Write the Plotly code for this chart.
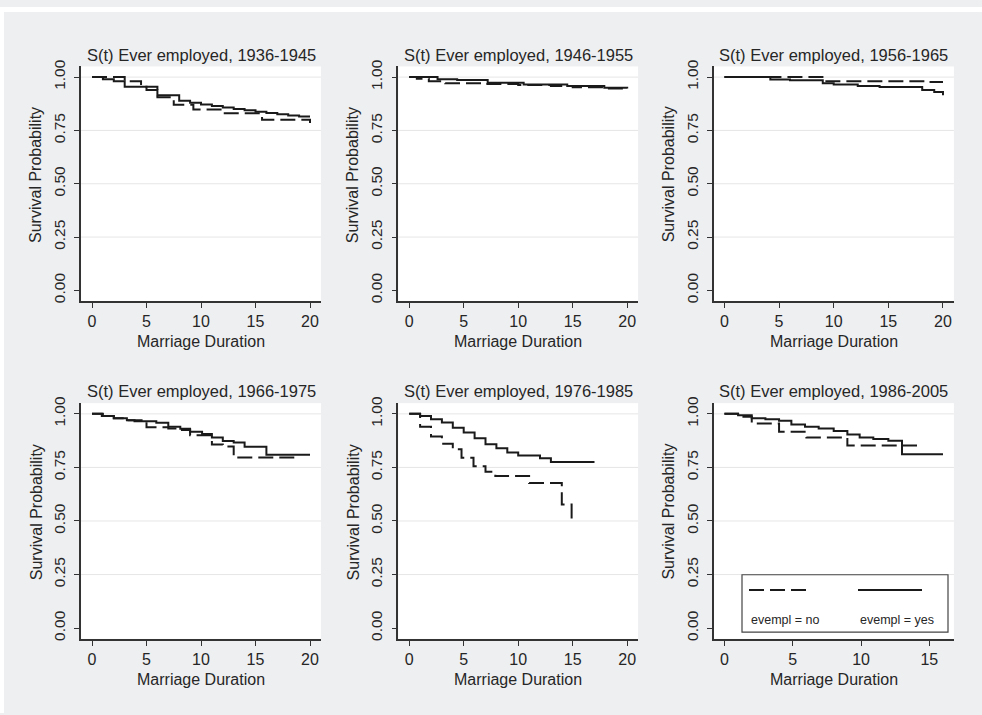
import plotly.graph_objects as go

# ---------------- data ----------------
panel_titles = ["S(t) Ever employed, 1936-1945", "S(t) Ever employed, 1946-1955",
                "S(t) Ever employed, 1956-1965", "S(t) Ever employed, 1966-1975",
                "S(t) Ever employed, 1976-1985", "S(t) Ever employed, 1986-2005"]

# evempl = no (dashed)
no_t_1 = [0, 3, 4.5, 6, 7.5, 9.3, 12, 15.6, 20]
no_s_1 = [1.0, 0.98, 0.955, 0.905, 0.87, 0.848, 0.83, 0.80, 0.785]
no_t_2 = [0, 0.7, 1.8, 3.3, 7, 10, 13, 15, 18, 20]
no_s_2 = [1.0, 0.992, 0.981, 0.971, 0.968, 0.963, 0.958, 0.952, 0.947, 0.942]
no_t_3 = [0, 9.1, 18.5, 20]
no_s_3 = [1.0, 0.981, 0.977, 0.977]
no_t_4 = [0, 1, 2, 3.2, 5, 7, 8, 9, 11, 12, 13, 19]
no_s_4 = [1.0, 0.99, 0.98, 0.97, 0.937, 0.932, 0.925, 0.9, 0.857, 0.848, 0.796, 0.796]
no_t_5 = [0, 1, 2, 3, 4, 4.8, 5.9, 7, 7.9, 11, 14, 14.9]
no_s_5 = [1.0, 0.94, 0.894, 0.86, 0.835, 0.795, 0.755, 0.73, 0.71, 0.677, 0.577, 0.5]
no_t_6 = [0, 1, 2, 4, 6, 9, 14.1]
no_s_6 = [1.0, 0.986, 0.955, 0.917, 0.89, 0.852, 0.852]

# evempl = yes (solid)
yes_t_1 = [0, 1, 2, 3, 5, 6, 8, 9, 10, 11, 12, 13, 14, 15, 16, 17, 18, 19, 20]
yes_s_1 = [1.0, 0.99, 0.98, 0.955, 0.94, 0.915, 0.889, 0.88, 0.872, 0.865, 0.858, 0.851,
           0.845, 0.838, 0.832, 0.826, 0.82, 0.815, 0.815]
yes_t_2 = [0, 2.6, 4.4, 7.2, 10.5, 14.5, 17.9, 20]
yes_s_2 = [1.0, 0.99, 0.986, 0.974, 0.965, 0.958, 0.95, 0.946]
yes_t_3 = [0, 4.2, 6, 9, 10, 12.2, 14.2, 18.1, 19.2, 20]
yes_s_3 = [1.0, 0.989, 0.985, 0.971, 0.965, 0.958, 0.954, 0.94, 0.93, 0.915]
yes_t_4 = [0, 0.9, 2, 3.2, 3.9, 5.9, 7, 8.1, 9, 10.1, 11, 12, 13, 14, 16, 20]
yes_s_4 = [1.0, 0.99, 0.98, 0.97, 0.966, 0.958, 0.94, 0.93, 0.917, 0.906, 0.89, 0.873,
           0.866, 0.847, 0.809, 0.809]
yes_t_5 = [0, 1, 2, 3, 4, 5, 6, 7, 8, 9, 10, 12, 13, 17]
yes_s_5 = [1.0, 0.99, 0.975, 0.96, 0.935, 0.913, 0.886, 0.858, 0.84, 0.82, 0.806, 0.793,
           0.775, 0.775]
yes_t_6 = [0, 1, 2, 3, 4, 4.9, 5.9, 6.9, 8, 9, 9.9, 10.9, 12, 13, 16]
yes_s_6 = [1.0, 0.994, 0.98, 0.975, 0.968, 0.95, 0.94, 0.932, 0.92, 0.904, 0.89, 0.883,
           0.875, 0.812, 0.812]

no_t = [no_t_1, no_t_2, no_t_3, no_t_4, no_t_5, no_t_6]
no_s = [no_s_1, no_s_2, no_s_3, no_s_4, no_s_5, no_s_6]
yes_t = [yes_t_1, yes_t_2, yes_t_3, yes_t_4, yes_t_5, yes_t_6]
yes_s = [yes_s_1, yes_s_2, yes_s_3, yes_s_4, yes_s_5, yes_s_6]

x_max = [20, 20, 20, 20, 20, 16]
x_ticks = [[0, 5, 10, 15, 20]] * 5 + [[0, 5, 10, 15]]
y_ticks = [0, 0.25, 0.5, 0.75, 1.0]
y_tick_text = ["0.00", "0.25", "0.50", "0.75", "1.00"]
legend_labels = ["evempl = no", "evempl = yes"]
x_title = "Marriage Duration"
y_title = "Survival Probability"

# ---------------- layout geometry (pixels) ----------------
W, H = 982, 715
cols = [(81.1, 320.9), (398.3, 638.1), (713.5, 953.9)]
rows = [(60.2, 297.8), (401.2, 639.9)]
BG = "#eeeff1"
TXT = "#262626"
AX = "#333333"
FONT = "Liberation Sans, Arial, sans-serif"
DASH = "15px,6px"


def px(x):
    return x / W


def py(y):
    return 1 - y / H


fig = go.Figure()
layout = dict(
    width=W, height=H, margin=dict(l=0, r=0, t=0, b=0),
    paper_bgcolor=BG, plot_bgcolor="white", showlegend=False,
    font=dict(family=FONT, color=TXT, size=14),
)
shapes = []
annotations = []

for i in range(6):
    r, c = divmod(i, 3)
    n = i + 1
    xa = "x" if n == 1 else f"x{n}"
    ya = "y" if n == 1 else f"y{n}"
    (x0, x1), (y0, y1) = cols[c], rows[r]
    pad = 0.05 * x_max[i]
    layout[f"xaxis{'' if n == 1 else n}"] = dict(
        domain=[px(x0), px(x1)], anchor=ya, range=[-pad, x_max[i] + pad],
        tickvals=x_ticks[i], ticks="outside", ticklen=5, tickwidth=1.3, tickcolor=AX,
        showline=True, linecolor=AX, linewidth=1.5, showgrid=False, zeroline=False,
        tickfont=dict(size=16, color=TXT, family=FONT), fixedrange=True,
    )
    layout[f"yaxis{'' if n == 1 else n}"] = dict(
        domain=[py(y1), py(y0)], anchor=xa, range=[-0.05, 1.05],
        tickvals=y_ticks, ticktext=y_tick_text, tickangle=-90,
        ticks="outside", ticklen=5, tickwidth=1.3, tickcolor=AX, ticklabelstandoff=3,
        showline=True, linecolor=AX, linewidth=1.5, showgrid=False, zeroline=False,
        tickfont=dict(size=15.5, color=TXT, family=FONT), fixedrange=True,
    )
    # grid lines (not at 0)
    for v in y_ticks[1:]:
        shapes.append(dict(type="line", xref=f"{xa} domain", yref=ya, x0=0, x1=1,
                           y0=v, y1=v, line=dict(color="#e6e6e6", width=1), layer="below"))
    fig.add_trace(go.Scatter(x=no_t[i], y=no_s[i], mode="lines", line_shape="hv",
                             line=dict(color="#1a1a1a", width=2, dash=DASH),
                             xaxis=xa, yaxis=ya, name=legend_labels[0]))
    fig.add_trace(go.Scatter(x=yes_t[i], y=yes_s[i], mode="lines", line_shape="hv",
                             line=dict(color="#1a1a1a", width=2),
                             xaxis=xa, yaxis=ya, name=legend_labels[1]))
    cx = (x0 + x1) / 2
    annotations.append(dict(text=panel_titles[i], x=px(cx), y=py(y0 - 12), xref="paper",
                            yref="paper", showarrow=False, xanchor="center", yanchor="middle",
                            font=dict(size=16.5, color=TXT, family=FONT)))
    annotations.append(dict(text=x_title, x=px(cx), y=py(y1 + 41), xref="paper",
                            yref="paper", showarrow=False, xanchor="center", yanchor="middle",
                            font=dict(size=16, color=TXT, family=FONT)))
    annotations.append(dict(text=y_title, x=px(x0 - 45), y=py((y0 + y1) / 2 - 9),
                            xref="paper", yref="paper", showarrow=False, xanchor="center",
                            yanchor="middle", textangle=-90,
                            font=dict(size=16, color=TXT, family=FONT)))

# white border strips (top / left)
shapes.append(dict(type="rect", xref="paper", yref="paper", x0=0, x1=1, y0=py(5), y1=1,
                   fillcolor="white", line=dict(width=0), layer="below"))
shapes.append(dict(type="rect", xref="paper", yref="paper", x0=0, x1=px(4), y0=0, y1=1,
                   fillcolor="white", line=dict(width=0), layer="below"))

# legend box (inside panel 6)
shapes.append(dict(type="rect", xref="paper", yref="paper", x0=px(742), x1=px(948),
                   y0=py(633), y1=py(575), fillcolor="white",
                   line=dict(color="#444444", width=1.2), layer="above"))
shapes.append(dict(type="line", xref="paper", yref="paper", x0=px(749), x1=px(810),
                   y0=py(590.5), y1=py(590.5),
                   line=dict(color="#1a1a1a", width=2, dash=DASH), layer="above"))
shapes.append(dict(type="line", xref="paper", yref="paper", x0=px(858), x1=px(922),
                   y0=py(590.5), y1=py(590.5),
                   line=dict(color="#1a1a1a", width=2), layer="above"))
annotations.append(dict(text=legend_labels[0], x=px(749), y=py(621), xref="paper",
                        yref="paper", showarrow=False, xanchor="left", yanchor="middle",
                        font=dict(size=12.5, color=TXT, family=FONT)))
annotations.append(dict(text=legend_labels[1], x=px(858), y=py(621), xref="paper",
                        yref="paper", showarrow=False, xanchor="left", yanchor="middle",
                        font=dict(size=12.5, color=TXT, family=FONT)))

layout["shapes"] = shapes
layout["annotations"] = annotations
fig.update_layout(**layout)
fig.write_html("out.html")
